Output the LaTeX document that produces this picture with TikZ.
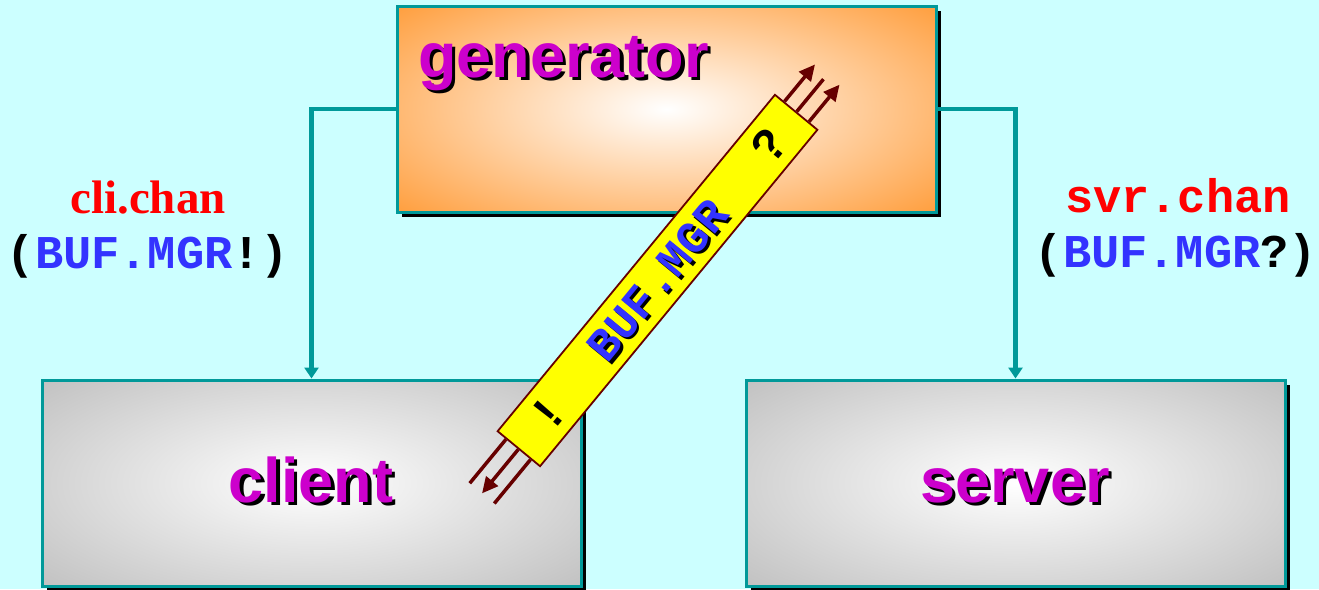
\documentclass[tikz,border=0pt]{standalone}
\usepackage{fontspec}
\setmainfont{Liberation Sans}
\newfontfamily\serifbf{Liberation Serif}
\newfontfamily\monobf{Liberation Mono}
\usetikzlibrary{arrows.meta,calc,shadows}
\definecolor{bgc}{HTML}{CCFFFF}
\definecolor{tealc}{HTML}{009999}
\definecolor{orangec}{HTML}{FF9933}
\definecolor{grayc}{HTML}{BEBEBE}
\definecolor{magc}{HTML}{CC00CC}
\definecolor{bluec}{HTML}{3333FF}
\definecolor{redc}{HTML}{FF0000}
\definecolor{darkredc}{HTML}{660000}
\definecolor{yellowc}{HTML}{FFFF00}
\tikzset{
  procbox/.style={draw=tealc, line width=3pt, minimum width=539pt, minimum height=206pt, inner sep=0pt,
    drop shadow={shadow xshift=4.5pt, shadow yshift=-4.5pt, opacity=1, fill=black}},
  orangefill/.style={path picture={\fill[orangec] (path picture bounding box.south west) rectangle (path picture bounding box.north east);
    \shade[inner color=white, outer color=orangec] (path picture bounding box.center) ellipse [x radius=390pt, y radius=160pt];}},
  grayfill/.style={path picture={\fill[grayc] (path picture bounding box.south west) rectangle (path picture bounding box.north east);
    \shade[inner color=white, outer color=grayc] (path picture bounding box.center) ellipse [x radius=390pt, y radius=160pt];}},
  bigtext/.style={font=\bfseries\fontsize{63}{63}\selectfont, text=magc, inner sep=0pt},
  bigshadow/.style={font=\bfseries\fontsize{63}{63}\selectfont, text=black, inner sep=0pt},
  conn/.style={draw=tealc, line width=4.5pt, -{Triangle[length=11pt,width=14pt]}},
  chanbox/.style={draw=darkredc, fill=yellowc, line width=1.8pt, minimum width=436pt, minimum height=55pt, inner sep=0pt, rotate=50.5},
  wire/.style={draw=darkredc, line width=3.5pt},
  wirearr/.style={wire, -{Triangle[length=16pt,width=15pt]}},
  chanlbl/.style={font=\monobf\bfseries\fontsize{46}{46}\selectfont, rotate=50.5, inner sep=0pt},
  marklbl/.style={font=\bfseries\fontsize{46}{46}\selectfont, rotate=50.5, inner sep=0pt},
  redlbl/.style={text=redc, anchor=base, inner sep=0pt},
  buflbl/.style={font=\monobf\bfseries\fontsize{47}{47}\selectfont, anchor=base, inner sep=0pt}
}
\begin{document}
\begin{tikzpicture}[x=1pt,y=-1pt]
\fill[bgc] (0,0) rectangle (1319,589);
\useasboundingbox (0,0) rectangle (1319,589);

% boxes
\node[procbox, orangefill] (gen) at (666.5,109) {};
\node[procbox, grayfill] (cli) at (311.5,483) {};
\node[procbox, grayfill] (srv) at (1015.5,483) {};

% box labels with shadows
\node[bigshadow, anchor=base west] (gens) at (421.5,80.5) {generator};
\node[bigtext, anchor=base west] (gent) at (418,77) {generator};
\node[bigshadow, anchor=base] (clis) at (314.5,505.5) {client};
\node[bigtext, anchor=base] (clit) at (311,502) {client};
\node[bigshadow, anchor=base] (srvs) at (1018.5,505.5) {server};
\node[bigtext, anchor=base] (srvt) at (1015,502) {server};

% connectors
\draw[conn] (gen.west) -| (cli.north);
\draw[conn] (gen.east) -| (srv.north);

% channel labels
\node[redlbl, font=\serifbf\bfseries\fontsize{47}{47}\selectfont] (clilbl) at (148,213) {cli.chan};
\node[buflbl] (clibuf) at (148,268) {(\textcolor{bluec}{BUF.MGR}!)};
\node[redlbl, font=\monobf\bfseries\fontsize{47}{47}\selectfont] (srvlbl) at (1178,212) {svr.chan};
\node[buflbl] (srvbuf) at (1176,267) {(\textcolor{bluec}{BUF.MGR}?)};

% channel
\node[chanbox] (ch) at (657.5,280.5) {};
\node[chanlbl, text=black] (bms) at ($(ch.center)+(2.5,2.5)$) {BUF.MGR};
\node[chanlbl, text=bluec] (bm) at (ch.center) {BUF.MGR};
\node[marklbl] (qm) at ($(ch.west)!0.9!(ch.east)$) {?};
\node[marklbl] (em) at ($(ch.west)!0.107!(ch.east)$) {!};

% top wires
\coordinate (t1) at ($(ch.north east)!0.22!(ch.south east)$);
\coordinate (t2) at ($(ch.north east)!0.5!(ch.south east)$);
\coordinate (t3) at ($(ch.north east)!0.78!(ch.south east)$);
\coordinate (t1e) at ($(t1)+(50.5:48pt)$);
\coordinate (t2e) at ($(t2)+(50.5:42pt)$);
\coordinate (t3e) at ($(t3)+(50.5:48pt)$);
\draw[wirearr] (t1) -- (t1e);
\draw[wire] (t2) -- (t2e);
\draw[wirearr] (t3) -- (t3e);

% bottom wires
\coordinate (b1) at ($(ch.north west)!0.22!(ch.south west)$);
\coordinate (b2) at ($(ch.north west)!0.5!(ch.south west)$);
\coordinate (b3) at ($(ch.north west)!0.78!(ch.south west)$);
\coordinate (b1e) at ($(b1)+(230.5:57pt)$);
\coordinate (b2e) at ($(b2)+(230.5:57pt)$);
\coordinate (b3e) at ($(b3)+(230.5:57pt)$);
\draw[wire] (b1) -- (b1e);
\draw[wirearr] (b2) -- (b2e);
\draw[wire] (b3) -- (b3e);
\end{tikzpicture}
\end{document}
